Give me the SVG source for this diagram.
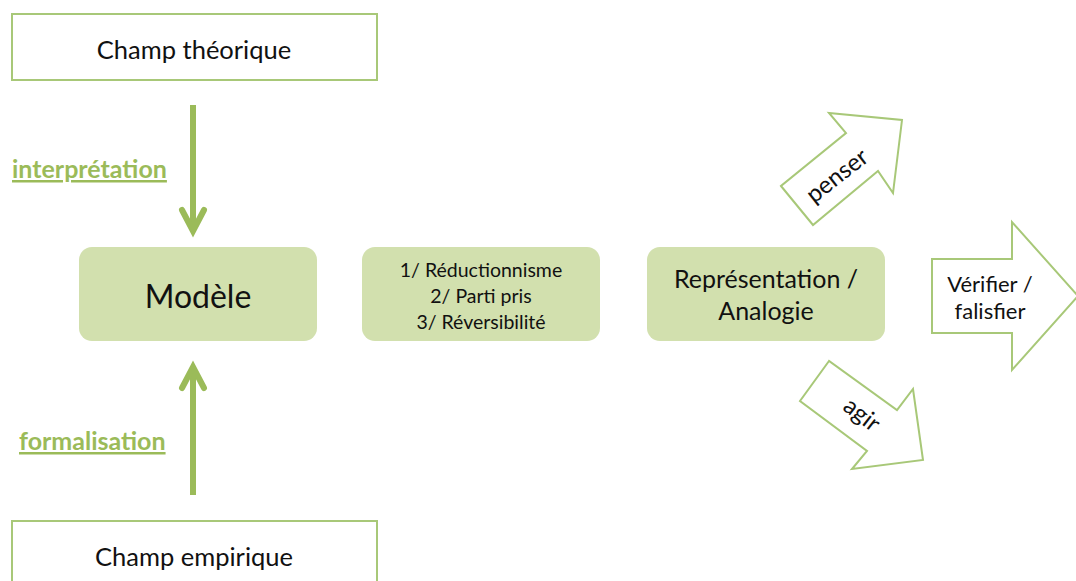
<svg xmlns="http://www.w3.org/2000/svg" width="1076" height="581" viewBox="0 0 1076 581">
<style>
.frame{fill:#fff;stroke:#a8c878;stroke-width:2}
.rbox{fill:#d2e0ae;stroke:none}
.bigarrow{fill:#fff;stroke:#a8c878;stroke-width:2;stroke-linejoin:miter}
.conn{fill:none;stroke:#9bbb59;stroke-width:6;stroke-linecap:butt}
.head{fill:none;stroke:#9bbb59;stroke-width:6;stroke-linecap:round;stroke-linejoin:miter}
text{font-family:Lato,"Open Sans","Liberation Sans",sans-serif;fill:#111;text-anchor:middle}
.lbl{fill:#9bbb59;font-weight:bold;font-size:25px;text-decoration:underline;text-anchor:start}
</style>
<g id="champ-theorique">
<rect class="frame" x="12" y="14" width="365" height="66"/>
<text x="194" y="59" font-size="25.5">Champ théorique</text>
</g>
<g id="modele">
<rect class="rbox" x="79" y="247" width="238" height="94" rx="13"/>
<text x="198" y="308" font-size="32">Modèle</text>
</g>
<g id="criteres">
<rect class="rbox" x="362" y="247" width="238" height="94" rx="13"/>
<text x="481" y="277" font-size="19.5">1/ Réductionnisme</text>
<text x="481" y="303" font-size="19.5">2/ Parti pris</text>
<text x="481" y="329" font-size="19.5">3/ Réversibilité</text>
</g>
<g id="representation">
<rect class="rbox" x="647" y="247" width="238" height="94" rx="13"/>
<text x="766" y="288" font-size="25">Représentation /</text>
<text x="766" y="320" font-size="25">Analogie</text>
</g>
<g id="champ-empirique">
<rect class="frame" x="12" y="521" width="365" height="70"/>
<text x="194" y="566" font-size="25.5">Champ empirique</text>
</g>
<g id="penser">
<polygon class="bigarrow" points="781,186 813,225 878,171 893,193 902,120 829,113 846,133"/>
<text transform="translate(842,182) rotate(-38)" font-size="24">penser</text>
</g>
<g id="verifier">
<polygon class="bigarrow" points="932,259 1012,259 1012,222 1078,296 1012,370 1012,333 932,333"/>
<text x="990" y="292" font-size="22">Vérifier /</text>
<text x="990" y="319" font-size="22">falisfier</text>
</g>
<g id="agir">
<polygon class="bigarrow" points="829,361 800,401 867,451 852,469 923,460 913,389 897,410"/>
<text transform="translate(857,421) rotate(38)" font-size="24">agir</text>
</g>
<g id="connectors">
<line class="conn" x1="193" y1="105" x2="193" y2="230"/>
<polyline class="head" points="182,210 193,231 204,210"/>
<text class="lbl" x="12" y="178">interprétation</text>
<line class="conn" x1="193" y1="368" x2="193" y2="495"/>
<polyline class="head" points="182,388 193,367 204,388"/>
<text class="lbl" x="19" y="450">formalisation</text>
</g>
</svg>
